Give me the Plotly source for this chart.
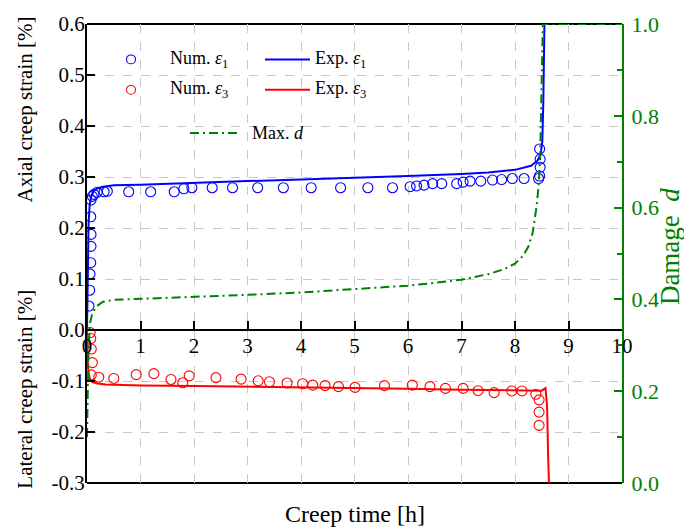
import plotly.graph_objects as go

# ---------------- data ----------------
num_e1_t = [0.037, 0.05, 0.056, 0.07, 0.075, 0.075, 0.07, 0.075, 0.1, 0.13, 0.19, 0.32, 0.38,
            0.78, 1.19, 1.63, 1.81, 1.96, 2.34, 2.72, 3.19, 3.67, 4.19, 4.74, 5.25, 5.71,
            6.04, 6.16, 6.30, 6.46, 6.63, 6.91, 7.03, 7.16, 7.36, 7.58, 7.75, 7.95, 8.17,
            8.44, 8.46, 8.47, 8.47, 8.46]
num_e1_v = [0.047, 0.078, 0.110, 0.132, 0.164, 0.1875, 0.222, 0.255, 0.262, 0.266, 0.270, 0.271, 0.272,
            0.271, 0.271, 0.271, 0.277, 0.279, 0.279, 0.279, 0.279, 0.279, 0.279, 0.279, 0.279, 0.279,
            0.281, 0.2825, 0.284, 0.287, 0.287, 0.287, 0.290, 0.292, 0.292, 0.294, 0.295, 0.297, 0.297,
            0.297, 0.302, 0.319, 0.335, 0.355]

exp_e1_t = [0, 0.005, 0.01, 0.02, 0.03, 0.05, 0.08, 0.12, 0.2, 0.3, 0.5, 1.0, 2.0, 3.0, 4.0,
            5.0, 6.0, 7.0, 7.5, 8.0, 8.3, 8.42, 8.48, 8.51, 8.53, 8.55, 8.56]
exp_e1_v = [0, 0.05, 0.1, 0.17, 0.21, 0.245, 0.262, 0.272, 0.278, 0.281, 0.284, 0.285, 0.289, 0.292, 0.295,
            0.298, 0.302, 0.306, 0.309, 0.314, 0.322, 0.332, 0.345, 0.37, 0.45, 0.6, 0.65]

num_e3_t = [0.06, 0.07, 0.08, 0.1, 0.08, 0.22, 0.5, 0.92, 1.25, 1.57, 1.79, 1.91, 2.41, 2.88, 3.20,
            3.41, 3.74, 4.03, 4.22, 4.45, 4.70, 5.01, 5.56, 6.08, 6.41, 6.70, 7.03, 7.31, 7.61,
            7.94, 8.13, 8.39, 8.45, 8.45, 8.45]
num_e3_v = [-0.005, -0.0168, -0.0374, -0.064, -0.088, -0.0925, -0.095, -0.0875, -0.0856, -0.097, -0.1035,
            -0.090, -0.0933, -0.0964, -0.0996, -0.1016, -0.104, -0.1054, -0.108, -0.109, -0.111, -0.1125,
            -0.109, -0.108, -0.111, -0.1145, -0.1145, -0.119, -0.1228, -0.1195, -0.1195, -0.126, -0.137,
            -0.161, -0.187]

exp_e3_t = [0, 0.005, 0.01, 0.02, 0.04, 0.06, 0.1, 0.2, 0.35, 0.6, 1.0, 2.0, 3.0, 4.0, 5.0, 6.0,
            7.0, 8.0, 8.4, 8.5, 8.57, 8.6, 8.62, 8.64]
exp_e3_v = [0, -0.03, -0.055, -0.075, -0.09, -0.097, -0.102, -0.105, -0.107, -0.108, -0.109, -0.110,
            -0.111, -0.112, -0.113, -0.115, -0.117, -0.119, -0.120, -0.119, -0.114, -0.15, -0.25, -0.32]

dmg_t = [0, 0.01, 0.03, 0.06, 0.1, 0.18, 0.3, 0.5, 1.0, 2.0, 3.0, 4.0, 5.0, 6.0, 6.5, 7.0, 7.5,
         7.8, 8.0, 8.15, 8.25, 8.33, 8.4, 8.44, 8.47, 8.5, 8.52, 10]
dmg_v = [0.10, 0.2, 0.3, 0.35, 0.37, 0.385, 0.395, 0.399, 0.401, 0.405, 0.41, 0.415, 0.422, 0.43,
         0.436, 0.443, 0.455, 0.466, 0.478, 0.495, 0.515, 0.545, 0.6, 0.645, 0.71, 0.85, 1.0, 1.0]

left_ticks = [-0.3, -0.2, -0.1, 0.0, 0.1, 0.2, 0.3, 0.4, 0.5, 0.6]
left_ticktext = ["-0.3", "-0.2", "-0.1", "0.0", "0.1", "0.2", "0.3", "0.4", "0.5", "0.6"]
right_ticks = [0.0, 0.2, 0.4, 0.6, 0.8, 1.0]
x_ticks = list(range(0, 11))

# ---------------- figure ----------------
FONT = "Liberation Serif"
BLUE = "#0000ff"
RED = "#ff0000"
GREEN = "#008000"
W, H = 684, 529
L, R, T, B = 87, 622, 16, 483

fig = go.Figure()
fig.add_trace(go.Scatter(x=exp_e1_t, y=exp_e1_v, mode="lines", line=dict(color=BLUE, width=2),
                         name="Exp. ε1", showlegend=False))
fig.add_trace(go.Scatter(x=exp_e3_t, y=exp_e3_v, mode="lines", line=dict(color=RED, width=2),
                         name="Exp. ε3", showlegend=False))
fig.add_trace(go.Scatter(x=dmg_t, y=dmg_v, mode="lines", yaxis="y2",
                         line=dict(color=GREEN, width=2, dash="9px,4px,2px,4px"),
                         name="Max. d", showlegend=False))
fig.add_trace(go.Scatter(x=num_e1_t, y=num_e1_v, mode="markers",
                         marker=dict(symbol="circle-open", size=10, color=BLUE, line=dict(width=1.1)),
                         name="Num. ε1", showlegend=False))
fig.add_trace(go.Scatter(x=num_e3_t, y=num_e3_v, mode="markers",
                         marker=dict(symbol="circle-open", size=10, color=RED, line=dict(width=1.1)),
                         name="Num. ε3", showlegend=False))

grid = dict(showgrid=True, gridcolor="#c8c8c8", griddash="dash", gridwidth=1)

fig.update_layout(
    width=W, height=H,
    margin=dict(l=L, r=W - R, t=T, b=H - B, pad=0),
    plot_bgcolor="white", paper_bgcolor="white",
    font=dict(family=FONT, size=21, color="black"),
    xaxis=dict(range=[0, 10], tickvals=x_ticks, ticks="inside", ticklen=8, tickwidth=1.5,
               tickcolor="black", showline=True, linecolor="black", linewidth=2,
               anchor="free", position=1/3, zeroline=False, ticklabelstandoff=-3, **grid),
    yaxis=dict(range=[-0.3, 0.6], tickvals=left_ticks, ticktext=left_ticktext, ticks="inside",
               ticklen=8, tickwidth=1.5, tickcolor="black", showline=True, linecolor="black",
               linewidth=2, zeroline=False, ticklabelstandoff=-4, **grid),
    yaxis2=dict(range=[0, 1], overlaying="y", side="right", tickvals=right_ticks,
                tickformat=".1f", ticks="inside", ticklen=8, tickwidth=1.5, tickcolor=GREEN,
                tickfont=dict(color=GREEN, size=22, family=FONT), showline=True, linecolor=GREEN,
                linewidth=2, showgrid=False, zeroline=False, ticklabelstandoff=3,
                minor=dict(tickvals=[0.1, 0.3, 0.5, 0.7, 0.9], ticks="inside", ticklen=5,
                           tickcolor=GREEN, tickwidth=1.5)),
)

def px(x):
    return (x - L) / (R - L)

def py(y):
    return (B - y) / (B - T)

shapes = [
    # frame top and bottom
    dict(type="line", xref="paper", yref="paper", x0=0, x1=1, y0=1, y1=1, layer="below",
         line=dict(color="black", width=2)),
    dict(type="line", xref="paper", yref="paper", x0=0, x1=1, y0=0, y1=0, layer="below",
         line=dict(color="black", width=2)),
]
# legend symbols
r = 4.5
for (cx, cy, col) in [(131, 52, BLUE), (131, 83, RED)]:
    shapes.append(dict(type="circle", xref="paper", yref="paper",
                       x0=px(cx - r), x1=px(cx + r), y0=py(cy + r), y1=py(cy - r),
                       line=dict(color=col, width=1.1)))
for (cy, col) in [(52, BLUE), (83, RED)]:
    shapes.append(dict(type="line", xref="paper", yref="paper", x0=px(265), x1=px(310),
                       y0=py(cy), y1=py(cy), line=dict(color=col, width=2)))
shapes.append(dict(type="line", xref="paper", yref="paper", x0=px(190), x1=px(237),
                   y0=py(127), y1=py(127), line=dict(color=GREEN, width=2, dash="9px,4px,2px,4px")))
fig.update_layout(shapes=shapes)

ann = []
def text(x, y, s, size=18, color="black", angle=0, xanchor="left"):
    ann.append(dict(x=px(x), y=py(y), xref="paper", yref="paper", text=s, showarrow=False,
                    xanchor=xanchor, yanchor="middle", textangle=angle,
                    font=dict(family=FONT, size=size, color=color)))

text(168, 52, "Num. <i>ε</i><sub>1</sub>")
text(313, 52, "Exp. <i>ε</i><sub>1</sub>")
text(168, 83, "Num. <i>ε</i><sub>3</sub>")
text(313, 83, "Exp. <i>ε</i><sub>3</sub>")
text(250, 127, "Max. <i>d</i>")
text(25, 103, "Axial creep strain [%]", size=21, angle=-90, xanchor="center")
text(25, 388, "Lateral creep strain [%]", size=21, angle=-90, xanchor="center")
text(670, 243, "Damage  <i>d</i>", size=27, color=GREEN, angle=-90, xanchor="center")
text(355, 515, "Creep time [h]", size=24, xanchor="center")
fig.update_layout(annotations=ann)

fig.write_html("out.html")
